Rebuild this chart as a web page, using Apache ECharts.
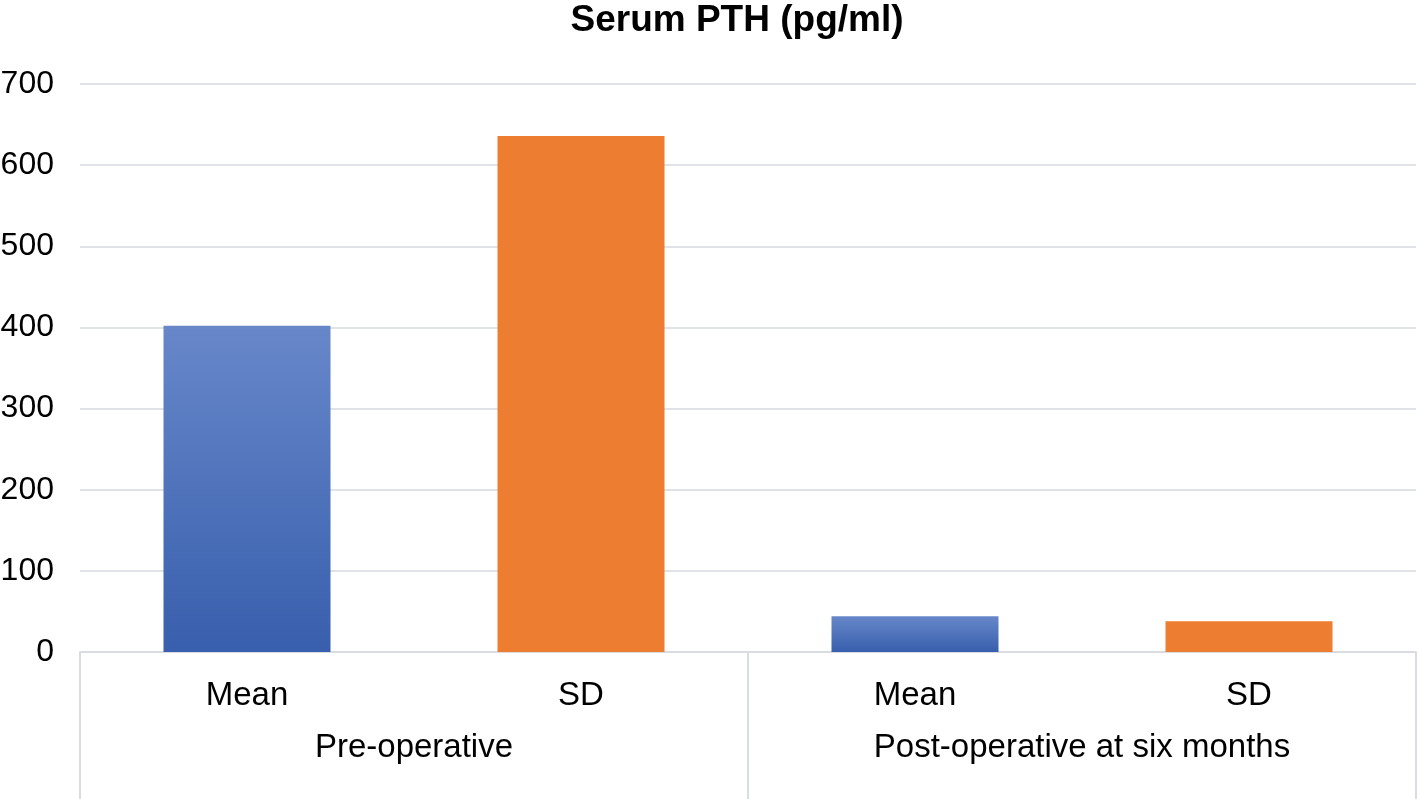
<!DOCTYPE html>
<html><head><meta charset="utf-8">
<script src="https://cdn.jsdelivr.net/npm/echarts@6/dist/echarts.min.js"></script>
<style>html,body{margin:0;padding:0;background:#fff}#c{width:1418px;height:799px}</style>
</head><body><div id="c"></div>
<script>
const title = 'Serum PTH (pg/ml)';
const categories = ['Mean', 'SD', 'Mean', 'SD'];
const groups = ['Pre-operative', 'Post-operative at six months'];
const values = [402, 636, 44, 38];
const seriesKind = ['mean', 'sd', 'mean', 'sd'];
const yTicks = [0, 100, 200, 300, 400, 500, 600, 700];

const font = 'Liberation Sans, Arial, Helvetica, sans-serif';
const blue = new echarts.graphic.LinearGradient(0, 0, 0, 1, [
  {offset: 0, color: '#6787c9'}, {offset: 1, color: '#385fad'}
]);
const orange = '#ed7d31';

const chart = echarts.init(document.getElementById('c'), null, {renderer: 'canvas'});
chart.setOption({
  animation: false,
  title: {
    text: title, left: 732, top: -3, textAlign: 'center',
    textStyle: {fontFamily: font, fontWeight: 'bold', fontSize: 37, color: '#000'}
  },
  grid: {left: 80, right: 2, top: 84, bottom: 147, containLabel: false, outerBoundsMode: 'none'},
  xAxis: [
    {
      type: 'category', data: categories, position: 'bottom',
      axisLine: {show: true, lineStyle: {color: '#d9dce1', width: 2}},
      axisTick: {show: false},
      axisLabel: {fontFamily: font, fontSize: 33, color: '#000', margin: 27, interval: 0}
    },
    {
      type: 'category', data: groups, position: 'bottom',
      axisLine: {show: false},
      axisTick: {show: true, length: 150, interval: 0, lineStyle: {color: '#d9dce1', width: 2}},
      axisLabel: {fontFamily: font, fontSize: 33, color: '#000', margin: 79, interval: 0}
    }
  ],
  yAxis: {
    type: 'value', min: 0, max: 700, interval: 100,
    axisLine: {show: false}, axisTick: {show: false},
    splitLine: {lineStyle: {color: '#dfe2e7', width: 2}},
    axisLabel: {fontFamily: font, fontSize: 32, color: '#000', margin: 26,
      formatter: v => yTicks.includes(v) ? String(v) : ''}
  },
  series: [{
    type: 'bar', xAxisIndex: 0, barWidth: '50%',
    data: values.map((v, i) => ({value: v, itemStyle: {color: seriesKind[i] === 'mean' ? blue : orange}}))
  }]
});
</script></body></html>
